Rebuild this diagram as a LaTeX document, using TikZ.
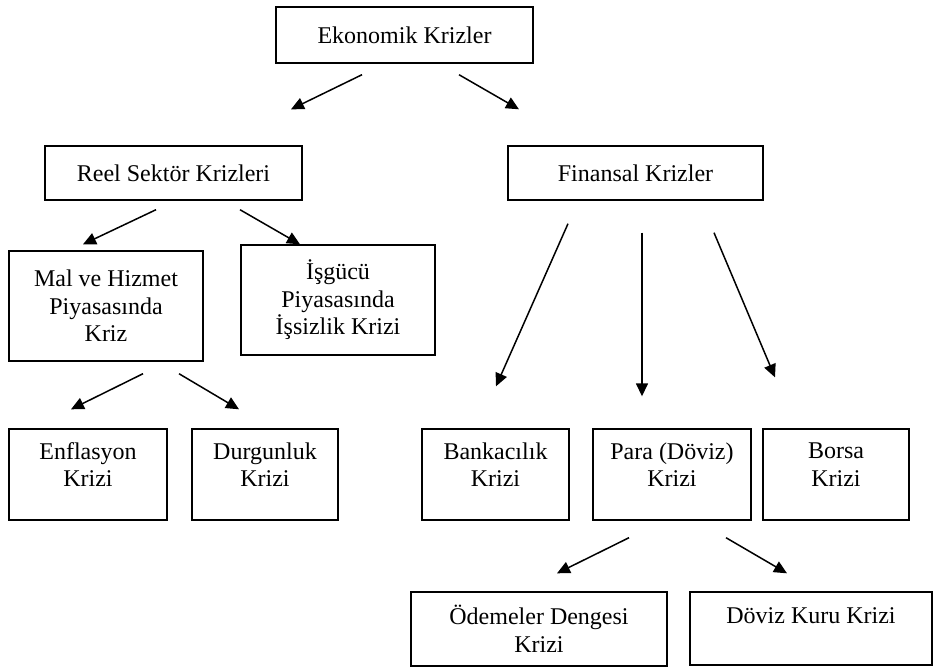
\documentclass[tikz,border=0pt]{standalone}
\usepackage{fontspec}
\setmainfont{Liberation Serif}
\usepackage{tikz}
\usetikzlibrary{arrows.meta, calc, positioning}

\tikzset{
  krizbox/.style={draw, line width=0.7pt, align=center, inner sep=0pt},
}

\begin{document}
\begin{tikzpicture}[x=0.5pt, y=-0.5pt, >={Triangle[length=6.5pt, width=6pt]}, line width=0.75pt,
  font=\fontsize{12}{13.8}\selectfont]
\useasboundingbox (0,0) rectangle (934,666);
% top level
\node[krizbox, minimum width=128.5pt, minimum height=28pt] (eko) at (404.5,35) {Ekonomik Krizler};
\node[krizbox, minimum width=128.5pt, minimum height=27pt] (reel) at (173.5,173) {Reel Sektör Krizleri};
\node[krizbox, minimum width=127.5pt, minimum height=27pt] (fin) at (635.5,173) {Finansal Krizler};
% real sector
\node[krizbox, minimum width=97pt, minimum height=55pt] (mal) at (106,306) {Mal ve Hizmet\\Piyasasında\\Kriz};
\node[krizbox, minimum width=97pt, minimum height=55pt] (isg) at (338,300) {İşgücü\\Piyasasında\\İşsizlik Krizi};
\node[krizbox, minimum width=79pt, minimum height=45.5pt] (enf) at (88,474.5) {Enflasyon\\Krizi\\[-8pt]\strut};
\node[krizbox, minimum width=73pt, minimum height=45.5pt] (dur) at (265,474.5) {Durgunluk\\Krizi\\[-8pt]\strut};
% financial
\node[krizbox, minimum width=73.5pt, minimum height=45.5pt] (ban) at (495.5,474.5) {Bankacılık\\Krizi\\[-8pt]\strut};
\node[krizbox, minimum width=79pt, minimum height=45.5pt] (para) at (672,474.5) {Para (Döviz)\\Krizi\\[-8pt]\strut};
\node[krizbox, minimum width=73pt, minimum height=45.5pt] (bor) at (836,474.5) {Borsa\\Krizi\\[-8pt]\strut};
\node[krizbox, minimum width=128pt, minimum height=37pt] (ode) at (539,629) {Ödemeler Dengesi\\Krizi};
\node[krizbox, minimum width=121pt, minimum height=36.5pt] (dkk) at (811,628.5) {Döviz Kuru Krizi\\[-5pt]\strut};
% arrows
\draw[->] ([shift={(-42.5,11)}]eko.south) -- ([shift={(117.5,-36)}]reel.north);
\draw[->] ([shift={(54.5,11)}]eko.south) -- ([shift={(-116.5,-36)}]fin.north);
\draw[->] ([shift={(-17.5,9)}]reel.south) -- ([shift={(-23,-6)}]mal.north);
\draw[->] ([shift={(66.5,9)}]reel.south) -- ([shift={(-38,0)}]isg.north);
\draw[->] ([shift={(-67.5,23)}]fin.south) -- ([shift={(0.5,-42)}]ban.north);
\draw[->] ([shift={(6.5,32)}]fin.south) -- ([shift={(-30,-32)}]para.north);
\draw[->] ([shift={(78.5,32)}]fin.south) -- ([shift={(-61,-51)}]bor.north);
\draw[->] ([shift={(37,12)}]mal.south) -- ([shift={(-17,-19)}]enf.north);
\draw[->] ([shift={(73,12)}]mal.south) -- ([shift={(-26,-19)}]dur.north);
\draw[->] ([shift={(-43,17)}]para.south) -- ([shift={(18,-18)}]ode.north);
\draw[->] ([shift={(54,17)}]para.south) -- ([shift={(-24,-18)}]dkk.north);
\end{tikzpicture}
\end{document}
